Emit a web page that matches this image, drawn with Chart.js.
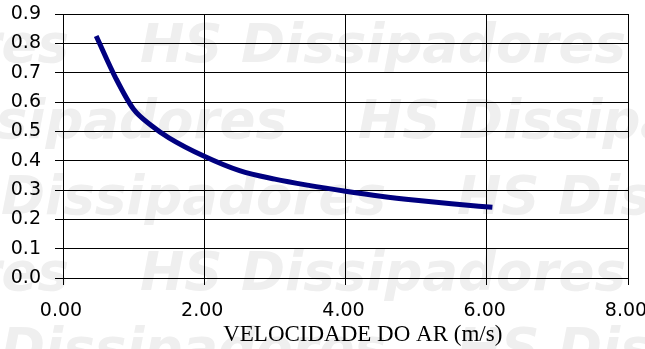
<!DOCTYPE html>
<html>
<head>
<meta charset="utf-8">
<script src="https://cdn.jsdelivr.net/npm/chart.js@4/dist/chart.umd.min.js"></script>
<style>
  html, body { margin: 0; padding: 0; background: #fff; }
  #wrap { width: 645px; height: 349px; position: relative; }
</style>
</head>
<body>
<div id="wrap"><canvas id="c"></canvas></div>
<script>
// Air velocity (m/s)
const velocity = [0.47, 0.75, 1.0, 1.25, 1.5, 2.0, 2.5, 3.0, 3.5, 4.0, 4.5, 5.0, 5.5, 6.08];
// Curve values
const values = [0.825, 0.68, 0.575, 0.52, 0.478, 0.415, 0.366, 0.337, 0.315, 0.296, 0.279, 0.265, 0.253, 0.241];
const xTicks = [0, 2, 4, 6, 8];
const yTicks = [0, 0.1, 0.2, 0.3, 0.4, 0.5, 0.6, 0.7, 0.8, 0.9];
const xTitle = 'VELOCIDADE DO AR (m/s)';
const watermark = 'HS Dissipadores';

const points = velocity.map((v, i) => ({ x: v, y: values[i] }));

const watermarkPlugin = {
  id: 'watermark',
  beforeDraw(chart) {
    const ctx = chart.ctx;
    ctx.save();
    ctx.font = 'italic bold 53px "DejaVu Sans"';
    ctx.fillStyle = '#efefef';
    ctx.textBaseline = 'alphabetic';
    const period = 557;
    const rows = [[62, 140], [138, 358], [214, 457], [290, 140], [366, 457]];
    rows.forEach(([y, hx]) => {
      let start = hx;
      while (start > -period) start -= period;
      for (let x = start; x < 700; x += period) {
        ctx.fillText(watermark, x, y);
      }
    });
    ctx.restore();
  }
};

new Chart(document.getElementById('c'), {
  type: 'line',
  data: {
    datasets: [{
      data: points,
      borderColor: '#000080',
      borderWidth: 5,
      pointRadius: 0,
      fill: false,
      cubicInterpolationMode: 'monotone'
    }]
  },
  options: {
    responsive: true,
    maintainAspectRatio: false,
    animation: false,
    layout: { padding: { top: 14, right: 17, left: 0, bottom: 0 } },
    plugins: { legend: { display: false }, tooltip: { enabled: false } },
    scales: {
      x: {
        type: 'linear',
        min: 0, max: 8,
        afterBuildTicks(scale) { scale.ticks = xTicks.map(v => ({ value: v })); },
        afterFit(scale) { scale.height = 71; scale.paddingLeft = 0; scale.paddingRight = 0; },
        ticks: {
          color: '#000',
          font: { family: '"DejaVu Sans"', size: 19 },
          padding: 15,
          labelOffset: -2,
          maxRotation: 0,
          callback: v => Number(v).toFixed(2)
        },
        grid: { color: '#000', lineWidth: 1, tickLength: 7, drawTicks: true },
        border: { display: true, color: '#000' },
        title: {
          display: true,
          text: '      ' + xTitle,
          color: '#000',
          font: { family: '"Liberation Serif"', size: 23 },
          padding: { top: 0, bottom: 0 }
        }
      },
      y: {
        type: 'linear',
        min: 0, max: 0.9,
        afterBuildTicks(scale) { scale.ticks = yTicks.map(v => ({ value: v })); },
        afterFit(scale) { scale.width = 63; scale.paddingTop = 0; scale.paddingBottom = 0; },
        ticks: {
          color: '#000',
          font: { family: '"DejaVu Sans"', size: 19 },
          padding: 14,
          callback: v => Number(v).toFixed(1)
        },
        grid: { color: '#000', lineWidth: 1, tickLength: 8 },
        border: { display: true, color: '#000' }
      }
    }
  },
  plugins: [watermarkPlugin]
});
</script>
</body>
</html>
